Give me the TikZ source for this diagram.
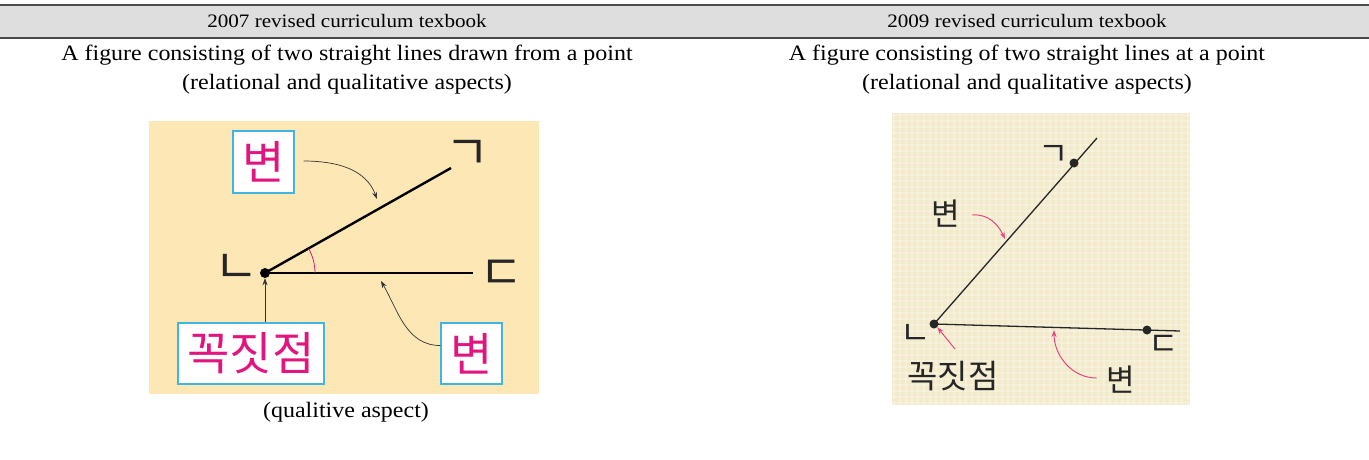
\documentclass[tikz,border=0pt]{standalone}
\usepackage{fontspec}
\setmainfont{Liberation Serif}
\newfontfamily\kr{Noto Sans CJK KR}
\usetikzlibrary{arrows.meta,calc}
\definecolor{hdr}{HTML}{DEDEDE}
\definecolor{rulec}{HTML}{4A4A4A}
\definecolor{beigeA}{HTML}{FCE7B5}
\definecolor{beigeB}{HTML}{F2EACB}
\definecolor{cyanb}{HTML}{3FB6E0}
\definecolor{magk}{HTML}{E2157F}
\definecolor{pinka}{HTML}{E8457F}
\tikzset{
  hdrtext/.style={font=\fontsize{19}{19}\selectfont, xscale=1.11, transform shape},
  bodytext/.style={font=\fontsize{22}{29}\selectfont, align=center, xscale=1.09, transform shape},
  krbox/.style={draw=cyanb, line width=1.2pt, fill=white, text=magk, inner sep=0pt, font=\kr\fontsize{46}{46}\selectfont},
  jamo/.style={font=\kr\fontsize{48}{48}\selectfont, text=black!85, inner sep=0pt},
  rjamo/.style={font=\kr\fontsize{33}{33}\selectfont, text=black!85, inner sep=0pt},
  rlabel/.style={font=\kr\fontsize{31}{31}\selectfont, text=black!85, inner sep=0pt},
  dotn/.style={circle, fill=black, inner sep=0pt, minimum size=10pt},
  rdot/.style={circle, fill=black!85, inner sep=0pt, minimum size=9pt},
  thinarr/.style={-{Stealth[length=7pt,width=5pt]}, line width=0.7pt, black!80},
  pinkarr/.style={-{Stealth[length=7pt,width=5pt]}, line width=1pt, pinka},
}
\begin{document}
\begin{tikzpicture}[x=1pt,y=-1pt]
\useasboundingbox (0,0) rectangle (1369,459);
% header
\fill[hdr] (0,5) rectangle (1369,38);
\draw[rulec, line width=2pt] (0,5) -- (1369,5);
\draw[rulec, line width=1.4pt] (0,38) -- (1369,38);
\node[hdrtext] (h1) at (347,21) {2007 revised curriculum texbook};
\node[hdrtext] (h2) at (1027,21) {2009 revised curriculum texbook};
\node[bodytext] (t1) at (347,69.5) {A figure consisting of two straight lines drawn from a point\\(relational and qualitative aspects)};
\node[bodytext] (t2) at (1027,69.5) {A figure consisting of two straight lines at a point\\(relational and qualitative aspects)};
% left panel
\fill[beigeA] (149,121) rectangle (539,394);
\node[dotn] (v) at (265,273) {};
\coordinate (a) at (451,168);
\coordinate (c) at (473,273);
\draw[line width=2.4pt] (v.center) -- (a);
\draw[line width=2pt] (v.center) -- (c);
\draw[magk, line width=0.8pt] ($(v.center)+(50,0)$) arc[start angle=0, end angle=-29.3, radius=50];
\node[jamo] (ja) at (468,155) {ㄱ};
\node[jamo] (jb) at (237,269) {ㄴ};
\node[jamo] (jc) at (502,275) {ㄷ};
\node[krbox, minimum width=61pt, minimum height=62pt] (b1) at (263.5,162) {변};
\node[krbox, minimum width=146pt, minimum height=61pt] (b2) at (251,353.5) {꼭짓점};
\node[krbox, minimum width=61pt, minimum height=61pt] (b3) at (471.5,353.5) {변};
\coordinate (p1) at (377,199);
\coordinate (p3) at (381,281);
\draw[thinarr] ($(b1.east)+(9,-1)$) to[out=0,in=110] (p1);
\draw[thinarr] (b2.north -| v) -- (v.south);
\draw[thinarr] ($(b3.west)+(0,-8)$) to[out=180,in=-60] (p3);
\node[bodytext] (cap) at (346,412) {(qualitive aspect)};
% right panel
\fill[beigeB] (892,113) rectangle (1190,405);
\begin{scope}
\clip (892,113) rectangle (1190,405);
\foreach \x in {894,900,...,1190} \draw[white, opacity=0.25, line width=1.5pt] (\x,113) -- (\x,405);
\foreach \y in {115,121,...,405} \draw[white, opacity=0.25, line width=1.5pt] (892,\y) -- (1190,\y);
\end{scope}
\node[rdot] (rv) at (934,324) {};
\node[rdot] (rg) at (1074,163) {};
\node[rdot] (rd) at (1147,330) {};
\coordinate (re1) at (1097,138);
\coordinate (re2) at (1180,331);
\draw[line width=1.3pt, black!85] (rv.center) -- (re1);
\draw[line width=1.3pt, black!85] (rv.center) -- (re2);
\node[rjamo] (rja) at (1054,155) {ㄱ};
\node[rjamo] (rjb) at (916,334) {ㄴ};
\node[rjamo] (rjc) at (1164,345) {ㄷ};
\node[rlabel] (rl1) at (946,214) {변};
\node[rlabel] (rl2) at (1121,380) {변};
\node[rlabel, font=\kr\fontsize{33}{33}\selectfont] (rl3) at (953,376) {꼭짓점};
\coordinate (q1) at (1005,239);
\coordinate (q2) at (1054,330);
\draw[pinkarr] ($(rl1.east)+(12,1)$) to[out=5,in=115] (q1);
\draw[pinkarr] ($(rl2.west)+(-10,-2)$) to[out=180,in=-90] (q2);
\draw[pinkarr] (955,349) -- (rv.south east);
\end{tikzpicture}
\end{document}
